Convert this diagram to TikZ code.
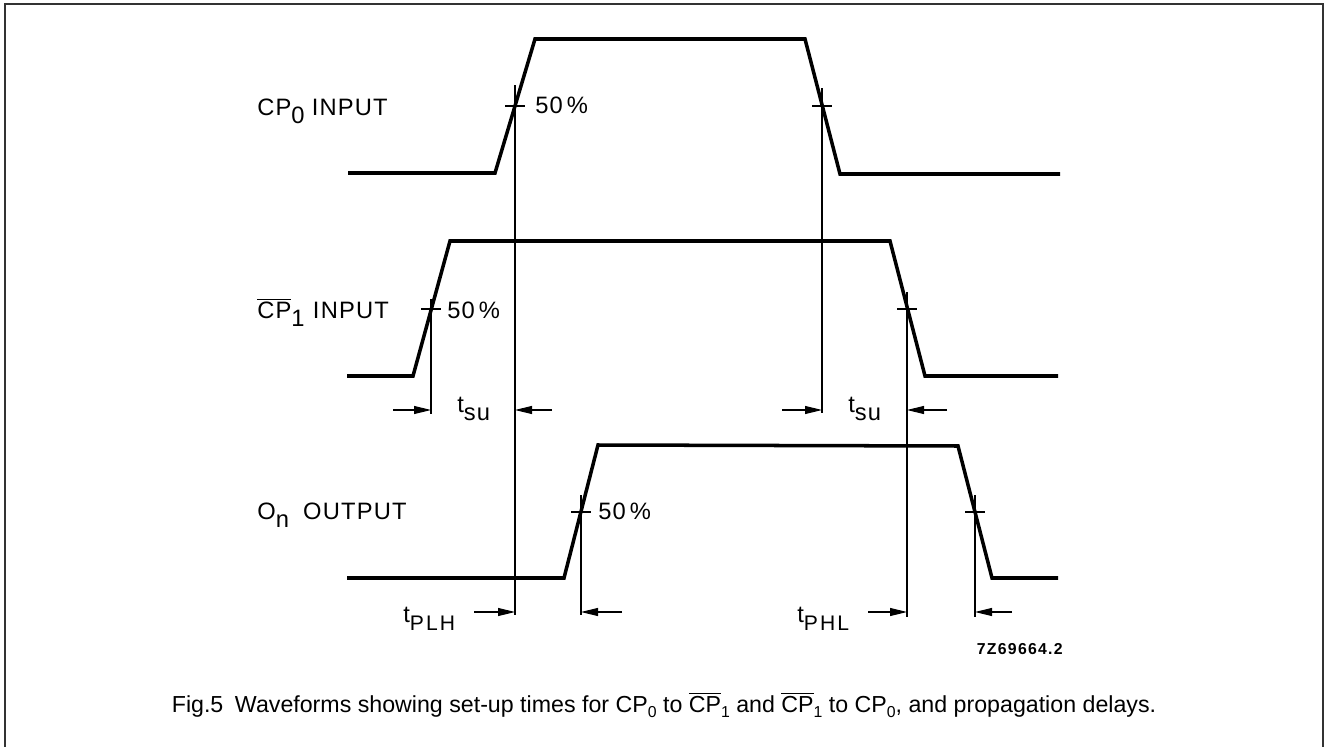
\documentclass[tikz,border=0pt]{standalone}
\usepackage{fontspec}
\setmainfont{Liberation Sans}
\usetikzlibrary{arrows.meta}

\newcommand{\lo}[1]{\raisebox{-0.35em}{#1}}
\newcommand{\cpbar}{$\overline{\mbox{CP}}$}
\newcommand{\capsub}[1]{\raisebox{-0.25em}{\fontsize{9}{10}\selectfont #1}}

\tikzset{
	wave/.style={line width=2pt},
	guide/.style={line width=0.6pt},
	dim/.style={line width=0.6pt,-{Triangle[length=3.4mm,width=1.6mm]}},
	lab/.style={anchor=base west,inner sep=0pt,font=\fontsize{13.5}{15}\selectfont\addfontfeature{LetterSpace=5}},
}

\begin{document}
\begin{tikzpicture}[x=0.02cm,y=-0.02cm]
			\useasboundingbox (0,0) rectangle (1326,747);
			\draw[line width=1pt,black!80] (5,747) -- (5,4) -- (1323,4) -- (1323,747);
			% waveforms
			\draw[wave] (348,173) -- (495,173) -- (535,39) -- (805,39) -- (840,174) -- (1060,174);
			\draw[wave] (347,376) -- (413,376) -- (450,241) -- (890,241) -- (925,376) -- (1058,376);
			\draw[wave] (347,578) -- (564,578) -- (598,445) -- (958,446) -- (992,578) -- (1058,578);
			% 50% points
			\coordinate (r0) at (515,106);
			\coordinate (f0) at (822,106);
			\coordinate (r1) at (431,309);
			\coordinate (f1) at (907,309);
			\coordinate (rn) at (581,512);
			\coordinate (fn) at (975,512);
			\coordinate (su) at (0,410);
			\coordinate (pd) at (0,612);
			\foreach \p in {r0,f0,r1,f1,rn,fn}
				\draw[guide] (\p) +(-10,0) -- +(10,0);
			\draw[guide] (r0) +(0,-21) -- +(0,509);
			\draw[guide] (f0) +(0,-18) -- +(0,307);
			\draw[guide] (r1) +(0,-10) -- +(0,105);
			\draw[guide] (f1) +(0,-17) -- +(0,308);
			\draw[guide] (rn) +(0,-17) -- +(0,103);
			\draw[guide] (fn) +(0,-17) -- +(0,105);
			\foreach \p/\d in {r1/-38,r0/37,f0/-40,f1/40}
				\draw[dim] (\p |- su) +(\d,0) -- (\p |- su);
			\foreach \p/\d in {r0/-41,rn/41,f1/-39,fn/37}
				\draw[dim] (\p |- pd) +(\d,0) -- (\p |- pd);
			% labels
			\node[lab] (cp0) at (257,115) {CP\lo{0}\hspace{0.3em}INPUT};
			\node[lab] (cp1) at (257,318) {\cpbar\lo{1}\hspace{0.35em}INPUT};
			\node[lab] (on) at (257,519) {O\lo{n}\hspace{0.6em}OUTPUT};
			\node[lab] (p0) at (535,113) {50\,\%};
			\node[lab] (p1) at (447,318) {50\,\%};
			\node[lab] (pn) at (598,519) {50\,\%};
			\node[lab] (tsua) at (457,412) {t\lo{su}};
			\node[lab] (tsub) at (848,412) {t\lo{su}};
			\node[lab] (tplh) at (403,622) {t\lo{\fontsize{12}{13}\selectfont\addfontfeature{LetterSpace=10}PLH}};
			\node[lab] (tphl) at (797,622) {t\lo{\fontsize{12}{13}\selectfont\addfontfeature{LetterSpace=10}PHL}};
			\node[anchor=base east,inner sep=0pt,font=\fontsize{9}{10}\selectfont\bfseries\addfontfeature{LetterSpace=8}] (code) at (1063,654) {7Z69664.2};
			\node[anchor=base,inner sep=0pt,font=\fontsize{13.2}{15}\selectfont] (cap) at (664,712)
				{Fig.5\hspace{0.5em}Waveforms showing set-up times for CP\capsub{0} to \cpbar\capsub{1} and \cpbar\capsub{1} to CP\capsub{0}, and propagation delays.};
\end{tikzpicture}
\end{document}
